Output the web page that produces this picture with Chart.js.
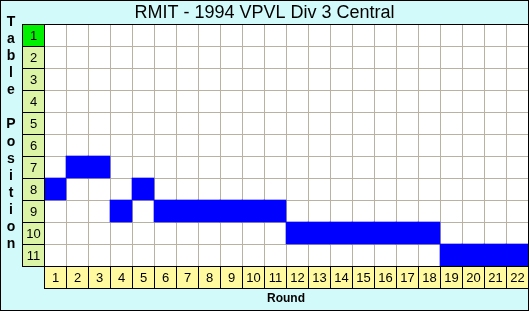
<!DOCTYPE html>
<html>
<head>
<meta charset="utf-8">
<script src="https://cdn.jsdelivr.net/npm/chart.js@4/dist/chart.umd.min.js"></script>
<style>
html,body{margin:0;padding:0;background:#d2fafa;}
#wrap{position:relative;width:529px;height:311px;}
canvas{display:block;}
</style>
</head>
<body>
<div id="wrap"><canvas id="c" width="529" height="311"></canvas></div>
<script>
const chartTitle = "RMIT - 1994 VPVL Div 3 Central";
const yTitle = "Table Position";
const xTitle = "Round";
const rounds = ["1","2","3","4","5","6","7","8","9","10","11","12","13","14","15","16","17","18","19","20","21","22"];
const positionLabels = ["1","2","3","4","5","6","7","8","9","10","11"];
const positions = [8,7,7,9,8,9,9,9,9,9,9,10,10,10,10,10,10,10,11,11,11,11];

const BG = '#d2fafa';
const gridColor = '#b8b2a2';

const decor = {
  id: 'decor',
  beforeDraw(chart) {
    const ctx = chart.ctx, W = chart.width, H = chart.height;
    ctx.save();
    ctx.fillStyle = BG;
    ctx.fillRect(0, 0, W, H);
    const a = chart.chartArea;
    ctx.fillStyle = '#ffffff';
    ctx.fillRect(a.left, a.top, a.right - a.left, a.bottom - a.top);
    ctx.restore();
  },
  afterDraw(chart) {
    const ctx = chart.ctx, W = chart.width, H = chart.height;
    const a = chart.chartArea;
    const xs = chart.scales.x, ys = chart.scales.y;
    const cw = xs.getPixelForValue(1) - xs.getPixelForValue(0);
    const ch = Math.abs(ys.getPixelForValue(1) - ys.getPixelForValue(0));
    ctx.save();
    ctx.font = '13px Arial, "Liberation Sans", sans-serif';
    ctx.textAlign = 'center';
    ctx.textBaseline = 'middle';
    // y label cells
    positionLabels.forEach((lab, i) => {
      const y0 = Math.round(ys.getPixelForValue(i));
      const y1 = Math.round(ys.getPixelForValue(i + 1));
      const x0 = Math.round(a.left - ch);
      ctx.fillStyle = i === 0 ? '#00f000' : '#dcf4a6';
      ctx.fillRect(x0, y0, a.left - x0, y1 - y0);
      ctx.strokeStyle = '#000';
      ctx.lineWidth = 1;
      ctx.strokeRect(x0 + 0.5, y0 + 0.5, a.left - x0, y1 - y0);
      ctx.fillStyle = '#000';
      ctx.fillText(lab, (x0 + a.left) / 2 + 0.5, (y0 + y1) / 2 + 1);
    });
    // x label cells
    const bTop = Math.round(a.bottom);
    const bBot = Math.round(a.bottom + ch);
    rounds.forEach((lab, i) => {
      const c = xs.getPixelForValue(i);
      const x0 = Math.round(c - cw / 2), x1 = Math.round(c + cw / 2);
      ctx.fillStyle = '#fffaa0';
      ctx.fillRect(x0, bTop, x1 - x0, bBot - bTop);
      ctx.strokeStyle = '#000';
      ctx.strokeRect(x0 + 0.5, bTop + 0.5, x1 - x0, bBot - bTop);
      ctx.fillStyle = '#000';
      ctx.fillText(lab, c + 0.5, (bTop + bBot) / 2 + 1);
    });
    // top border line of plot
    ctx.beginPath();
    ctx.moveTo(a.left, Math.round(a.top) + 0.5);
    ctx.lineTo(W, Math.round(a.top) + 0.5);
    ctx.stroke();
    // axis titles
    ctx.font = 'bold 12px Arial, "Liberation Sans", sans-serif';
    ctx.fillText(xTitle, (a.left + a.right) / 2, bBot + 11);
    ctx.font = 'bold 14px Arial, "Liberation Sans", sans-serif';
    const chars = yTitle.split('');
    const step = 17.1;
    chars.forEach((chr, i) => {
      ctx.fillText(chr, 11, 22 + i * step);
    });
    // chart title
    ctx.font = '18px Arial, "Liberation Sans", sans-serif';
    ctx.fillText(chartTitle, W / 2, 13);
    // outer border
    ctx.strokeRect(0.5, 0.5, W - 1, H - 1);
    ctx.restore();
  }
};

new Chart(document.getElementById('c'), {
  type: 'bar',
  data: {
    labels: rounds,
    datasets: [{
      data: positions.map(p => [p - 1, p]),
      backgroundColor: '#0000ff',
      borderWidth: 0,
      barPercentage: 1,
      categoryPercentage: 1
    }]
  },
  options: {
    responsive: false,
    animation: false,
    devicePixelRatio: 1,
    layout: { padding: { top: 24, right: 1, left: 0, bottom: 0 } },
    plugins: { legend: { display: false }, tooltip: { enabled: false }, title: { display: false } },
    scales: {
      x: {
        grid: { color: gridColor, drawTicks: false, offset: true },
        border: { display: false },
        ticks: { display: false },
        afterFit(s) { s.height = 45; }
      },
      y: {
        min: 0, max: 11, reverse: true,
        ticks: { display: false, stepSize: 1 },
        grid: { color: gridColor, drawTicks: false },
        border: { display: false },
        afterFit(s) { s.width = 44; }
      }
    }
  },
  plugins: [decor]
});
</script>
</body>
</html>
